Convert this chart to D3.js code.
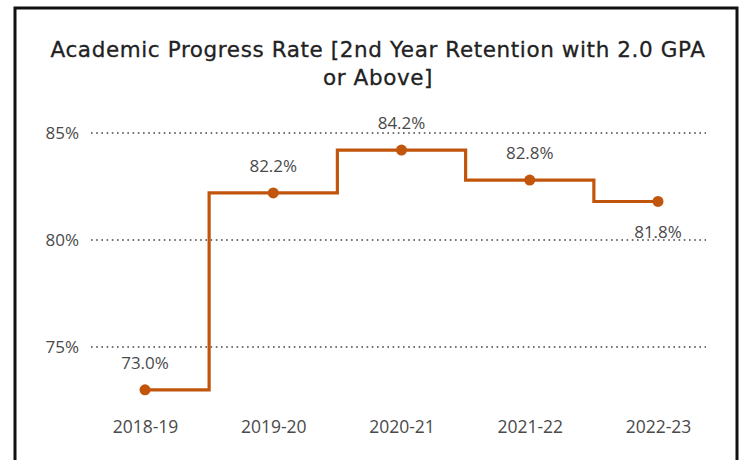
<!DOCTYPE html>
<html>
<head>
<meta charset="utf-8">
<script src="https://cdn.jsdelivr.net/npm/d3@7"></script>
<style>
  body { margin: 0; background: #fff; }
  svg { display: block; }
  .title { font-family: "DejaVu Sans", sans-serif; font-size: 21.5px; letter-spacing: 0.6px; fill: #222; stroke: #222; stroke-width: 0.3px; }
  .tick text, .lbl { font-family: "Open Sans", "Noto Sans", sans-serif; fill: #4a4a4a; }
</style>
</head>
<body>
<div id="chart"></div>
<script>
var years = ["2018-19", "2019-20", "2020-21", "2021-22", "2022-23"];
var rates = [73.0, 82.2, 84.2, 82.8, 81.8];
var yTicks = [75, 80, 85];
// where power bi put each data label
var labelPos = ["above", "above", "above", "above", "below"];

var width = 743, height = 460;

var svg = d3.select("#chart").append("svg")
    .attr("width", width)
    .attr("height", height);

// frame
svg.append("rect")
    .attr("x", 15).attr("y", 8)
    .attr("width", 722).attr("height", 470)
    .attr("fill", "none")
    .attr("stroke", "#111")
    .attr("stroke-width", 3);

svg.append("text")
    .attr("class", "title")
    .attr("text-anchor", "middle")
    .selectAll("tspan")
    .data(["Academic Progress Rate [2nd Year Retention with 2.0 GPA", "or Above]"])
    .enter().append("tspan")
    .attr("x", 378)
    .attr("y", function(d, i) { return 57 + i * 28; })
    .text(function(d) { return d; });

var x = d3.scalePoint()
    .domain(years)
    .range([145, 658]);

var y = d3.scaleLinear()
    .domain([75, 85])
    .range([347, 133]);

// gridlines
svg.append("g")
    .selectAll("line")
    .data(yTicks)
    .enter().append("line")
    .attr("x1", 91).attr("x2", 706)
    .attr("y1", function(d) { return y(d); })
    .attr("y2", function(d) { return y(d); })
    .attr("stroke", "#444")
    .attr("stroke-width", 1.6)
    .attr("stroke-dasharray", "1.6,3.6");

var yAxis = svg.append("g")
    .attr("transform", "translate(79,0)")
    .call(d3.axisLeft(y).tickValues(yTicks).tickSize(0).tickPadding(0)
        .tickFormat(function(d) { return d + "%"; }));
yAxis.select(".domain").remove();
yAxis.selectAll("text").style("font-size", "17px");

var xAxis = svg.append("g")
    .attr("transform", "translate(0,421)")
    .call(d3.axisBottom(x).tickSize(0).tickPadding(0));
xAxis.select(".domain").remove();
xAxis.selectAll("text").style("font-size", "17.5px");

var line = d3.line()
    .x(function(d, i) { return x(years[i]); })
    .y(function(d) { return y(d); })
    .curve(d3.curveStep);

svg.append("path")
    .datum(rates)
    .attr("d", line)
    .attr("fill", "none")
    .attr("stroke", "#c2550c")
    .attr("stroke-width", 3.2);

svg.append("g")
    .selectAll("circle")
    .data(rates)
    .enter().append("circle")
    .attr("cx", function(d, i) { return x(years[i]); })
    .attr("cy", function(d) { return y(d); })
    .attr("r", 5.5)
    .attr("fill", "#c2550c");

svg.append("g")
    .selectAll("text")
    .data(rates)
    .enter().append("text")
    .attr("class", "lbl")
    .attr("text-anchor", "middle")
    .style("font-size", "17px")
    .attr("x", function(d, i) { return x(years[i]); })
    .attr("y", function(d, i) {
        return labelPos[i] == "above" ? y(d) - 21 : y(d) + 37;
    })
    .text(function(d) { return d.toFixed(1) + "%"; });
</script>
</body>
</html>
